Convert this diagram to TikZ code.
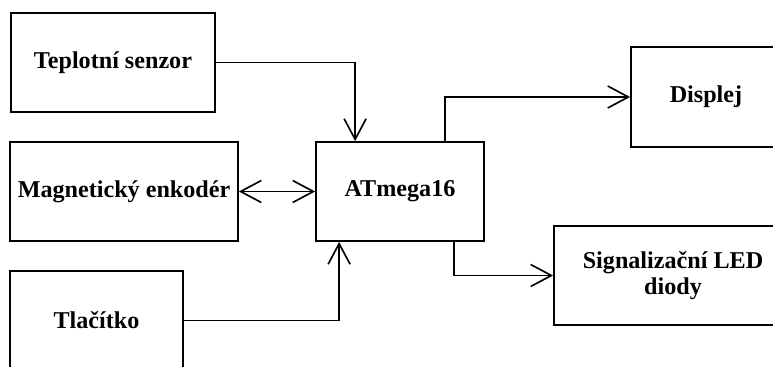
\documentclass[tikz,border=0pt]{standalone}
\usepackage{fontspec}
\setmainfont{Liberation Serif}
\usetikzlibrary{arrows.meta, positioning, calc}

\begin{document}
\begin{tikzpicture}[x=0.03cm, y=-0.03cm,
box/.style={rectangle, draw=black, line width=1.5pt, align=center, font=\fontsize{20.6}{22.5}\selectfont\bfseries, minimum height=2.97cm},
arrow/.style={-{Straight Barb[length=0.62cm, width=0.66cm, line width=1.4pt]}, line width=1.4pt},
arrows2/.style={{Straight Barb[length=0.62cm, width=0.66cm, line width=1.4pt]}-{Straight Barb[length=0.62cm, width=0.66cm, line width=1.4pt]}, line width=1.4pt}
]
\clip (0,0) rectangle (773,367);
\fill[white] (0,0) rectangle (773,367);

\node[box, minimum width=6.12cm] (teplota) at (113,62.5) {Teplotní senzor};
\node[box, minimum width=6.84cm] (enkoder) at (124,191.5) {Magnetický enkodér};
\node[box, minimum width=5.19cm] (tlacitko) at (96.5,320.5) {Tlačítko};
\node[box, minimum width=5.04cm] (atmega) at (400,191.5) {ATmega16};
\node[box, minimum width=4.5cm, minimum height=3cm] (displej) at (706,97) {Displej};
\node[box, minimum width=7.14cm] (led) at (673,275.5) {Signalizační LED\\diody};

\draw[arrow] (teplota.east) -| ($(atmega.north west)+(40,0)$);
\draw[arrows2] (enkoder) -- (atmega);
\draw[arrow] (tlacitko.east) -| ($(atmega.south west)+(24,0)$);
\draw[arrow] ($(atmega.north west)+(130,0)$) |- (displej.west);
\draw[arrow] ($(atmega.south west)+(139,0)$) |- (led.west);
\end{tikzpicture}
\end{document}
